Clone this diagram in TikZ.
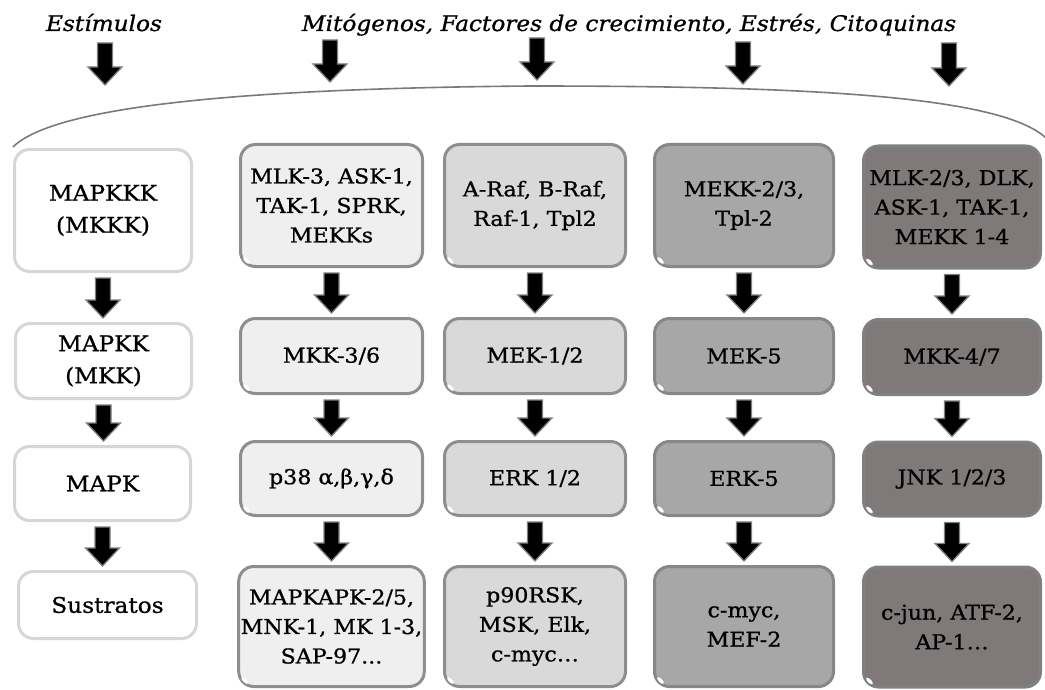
\documentclass[tikz,border=0pt]{standalone}
\usepackage{fontspec}
\setmainfont{DejaVu Serif}[FakeStretch=1.08, FakeBold=0.9]
\usetikzlibrary{calc}

\definecolor{edgeL}{HTML}{D6D6D6}
\definecolor{edgeK}{HTML}{8E8E8E}
\definecolor{fillB}{HTML}{EFEFEF}
\definecolor{fillC}{HTML}{D9D9D9}
\definecolor{fillD}{HTML}{A7A7A7}
\definecolor{fillE}{HTML}{807979}
\definecolor{arcgray}{HTML}{7A7A7A}

\tikzset{
  box/.style={rounded corners=15pt, line width=3pt, align=center, inner sep=2pt,
    text=black, font=\fontsize{20.5}{29.5}\selectfont},
  lab/.style={box, draw=edgeL, fill=white, font=\fontsize{21.5}{32}\selectfont},
  kB/.style={box, draw=edgeK, fill=fillB},
  kC/.style={box, draw=edgeK, fill=fillC},
  kD/.style={box, draw=edgeK!95!black, fill=fillD},
  kE/.style={box, draw=edgeK!90!black, fill=fillE},
  barrow/.style={fill=black, draw=black!50, line width=1.3pt, line join=miter},
  heading/.style={font=\fontsize{21.5}{25}\selectfont\itshape, anchor=base},
  arcline/.style={draw=arcgray, line width=1.6pt},
}

% block arrow from tail point #1 to tip point #2 (vertical)
\newcommand\blockarrow[2]{%
  \path[barrow] let \p1=#1, \p2=#2 in
    (\x1-7.5pt,\y1) -- (\x1+7.5pt,\y1) -- (\x1+7.5pt,\y2+18pt) -- (\x1+17pt,\y2+18pt)
    -- (\x1,\y2) -- (\x1-17pt,\y2+18pt) -- (\x1-7.5pt,\y2+18pt) -- cycle;}
% arrow between two stacked boxes
\newcommand\flow[2]{\blockarrow{($(#1.south)+(0,5)$)}{($(#2.north)+(0,-4)$)}}
% small glare in the lower left corner of a box
\newcommand\glare[1]{%
  \fill[white, shift={($(#1.south west)+(7.5pt,7.5pt)$)}, x=1pt, y=1pt, rotate=-45]
    (0,0) ellipse (4.5 and 1.8);}

\begin{document}
\begin{tikzpicture}[x=1pt, y=-1pt]
\useasboundingbox (0,0) rectangle (1045,690);

% stimuli
\node[heading] (stim) at (104,31) {Estímulos};
\node[heading] (agents) at (629,31) {Mitógenos, Factores de crecimiento, Estrés, Citoquinas};

\coordinate (s1) at (105,43);  \coordinate (e1) at (105,85);
\coordinate (s2) at (330,40);  \coordinate (e2) at (330,82);
\coordinate (s3) at (537,38);  \coordinate (e3) at (537,80);
\coordinate (s4) at (743,42);  \coordinate (e4) at (743,84);
\coordinate (s5) at (949,43);  \coordinate (e5) at (949,86);
\foreach \i in {1,...,5} {\blockarrow{(s\i)}{(e\i)}}

% bracket over all cascades
\coordinate (arcL) at (13,147);
\coordinate (arcM) at (530,86);
\coordinate (arcR) at (1046,138);
\draw[arcline] (arcL) .. controls (60,100) and (300,88) .. (arcM)
  .. controls (800,86) and (1000,95) .. (arcR);

% level names
\node[lab, minimum width=177pt, minimum height=122pt] (l1) at (103,210.5) {MAPKKK\\(MKKK)};
\node[lab, minimum width=176pt, minimum height=75pt]  (l2) at (103.5,361) {MAPKK\\(MKK)};
\node[lab, minimum width=176pt, minimum height=74pt]  (l3) at (102.5,483.5) {MAPK};
\node[lab, minimum width=178pt, minimum height=67pt]  (l4) at (107.5,605) {Sustratos};

% p38 cascade
\node[kB, minimum width=182pt, minimum height=122pt] (a1) at (331.5,205.5) {MLK-3, ASK-1,\\TAK-1, SPRK,\\MEKKs};
\node[kB, minimum width=182pt, minimum height=75pt]  (a2) at (331.5,356) {MKK-3/6};
\node[kB, minimum width=182pt, minimum height=74pt]  (a3) at (331.5,478.5) {p38 α,β,γ,δ};
\node[kB, minimum width=184pt, minimum height=120pt] (a4) at (331.5,626.5) {MAPKAPK-2/5,\\MNK-1, MK 1-3,\\SAP-97...};

% ERK1/2 cascade
\node[kC, minimum width=181pt, minimum height=122pt] (b1) at (535,205.5) {A-Raf, B-Raf,\\Raf-1, Tpl2};
\node[kC, minimum width=181pt, minimum height=75pt]  (b2) at (535,356) {MEK-1/2};
\node[kC, minimum width=181pt, minimum height=74pt]  (b3) at (535,478.5) {ERK 1/2};
\node[kC, minimum width=181pt, minimum height=120pt] (b4) at (535,626.5) {p90RSK,\\MSK, Elk,\\c-myc…};

% ERK5 cascade
\node[kD, minimum width=179pt, minimum height=122pt] (c1) at (744,205.5) {MEKK-2/3,\\Tpl-2};
\node[kD, minimum width=179pt, minimum height=75pt]  (c2) at (744,356) {MEK-5};
\node[kD, minimum width=179pt, minimum height=74pt]  (c3) at (744,478.5) {ERK-5};
\node[kD, minimum width=179pt, minimum height=120pt] (c4) at (744,626.5) {c-myc,\\MEF-2};

% JNK cascade
\node[kE, minimum width=177pt, minimum height=122pt] (d1) at (952,207) {MLK-2/3, DLK,\\ASK-1, TAK-1,\\MEKK 1-4};
\node[kE, minimum width=177pt, minimum height=75pt]  (d2) at (952,357) {MKK-4/7};
\node[kE, minimum width=177pt, minimum height=74pt]  (d3) at (952,479) {JNK 1/2/3};
\node[kE, minimum width=177pt, minimum height=120pt] (d4) at (952,627) {c-jun, ATF-2,\\AP-1…};

\foreach \c in {a,b,c,d} {\foreach \r in {1,...,4} {\glare{\c\r}}}

% steps of each cascade
\foreach \c in {l,a,b,c,d} {
  \flow{\c1}{\c2}
  \flow{\c2}{\c3}
  \flow{\c3}{\c4}
}
\end{tikzpicture}
\end{document}
